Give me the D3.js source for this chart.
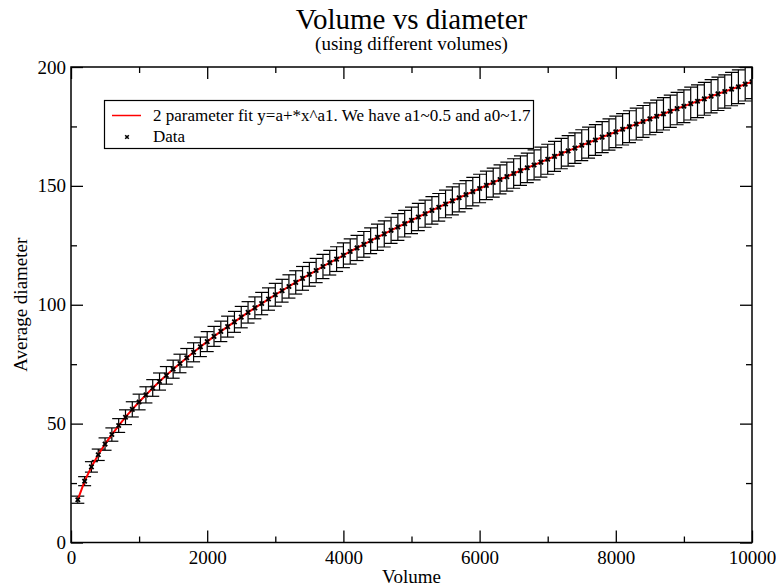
<!DOCTYPE html>
<html lang="en">
<head>
  <meta charset="UTF-8">
  <title>Volume vs diameter</title>
  <script src="https://d3js.org/d3.v7.min.js"></script>
  <style>
    body { margin: 0; background: #fff; }
    text { font-family: "Liberation Serif", "DejaVu Serif", serif; fill: #000; }
  </style>
</head>
<body>
  <svg id="chart"></svg>
  <script>
    // volumes used in the runs
    const volume = [
      100, 200, 300, 400, 500, 600, 700, 800, 900, 1000,
      1100, 1200, 1300, 1400, 1500, 1600, 1700, 1800, 1900, 2000,
      2100, 2200, 2300, 2400, 2500, 2600, 2700, 2800, 2900, 3000,
      3100, 3200, 3300, 3400, 3500, 3600, 3700, 3800, 3900, 4000,
      4100, 4200, 4300, 4400, 4500, 4600, 4700, 4800, 4900, 5000,
      5100, 5200, 5300, 5400, 5500, 5600, 5700, 5800, 5900, 6000,
      6100, 6200, 6300, 6400, 6500, 6600, 6700, 6800, 6900, 7000,
      7100, 7200, 7300, 7400, 7500, 7600, 7700, 7800, 7900, 8000,
      8100, 8200, 8300, 8400, 8500, 8600, 8700, 8800, 8900, 9000,
      9100, 9200, 9300, 9400, 9500, 9600, 9700, 9800, 9900, 10000
    ];

    // average diameter (data and fit lie on top of each other)
    const avgDiameter = [
      18.0, 25.8, 31.8, 36.9, 41.4, 45.4, 49.2, 52.7, 56.0, 59.1,
      62.1, 65.0, 67.7, 70.3, 72.9, 75.3, 77.7, 80.0, 82.3, 84.5,
      86.7, 88.8, 90.8, 92.8, 94.8, 96.8, 98.7, 100.5, 102.4, 104.2,
      105.9, 107.7, 109.4, 111.1, 112.8, 114.4, 116.1, 117.7, 119.2, 120.8,
      122.4, 123.9, 125.4, 126.9, 128.4, 129.8, 131.3, 132.7, 134.1, 135.5,
      136.9, 138.3, 139.7, 141.0, 142.4, 143.7, 145.0, 146.3, 147.6, 148.9,
      150.2, 151.4, 152.7, 153.9, 155.2, 156.4, 157.6, 158.8, 160.0, 161.2,
      162.4, 163.6, 164.7, 165.9, 167.1, 168.2, 169.3, 170.5, 171.6, 172.7,
      173.8, 174.9, 176.0, 177.1, 178.2, 179.3, 180.3, 181.4, 182.5, 183.5,
      184.6, 185.6, 186.6, 187.7, 188.7, 189.7, 190.7, 191.7, 192.8, 193.8
    ];

    // error bar half height
    const diameterErr = [
      1.5, 1.9, 2.2, 2.4, 2.6, 2.8, 2.9, 3.1, 3.2, 3.3,
      3.4, 3.5, 3.6, 3.7, 3.8, 3.9, 3.9, 4.0, 4.1, 4.2,
      4.2, 4.3, 4.4, 4.4, 4.5, 4.5, 4.6, 4.7, 4.7, 4.8,
      4.8, 4.9, 4.9, 5.0, 5.0, 5.1, 5.1, 5.2, 5.2, 5.2,
      5.3, 5.3, 5.4, 5.4, 5.5, 5.5, 5.5, 5.6, 5.6, 5.6,
      5.7, 5.7, 5.8, 5.8, 5.8, 5.9, 5.9, 5.9, 6.0, 6.0,
      6.0, 6.1, 6.1, 6.1, 6.2, 6.2, 6.2, 6.3, 6.3, 6.3,
      6.3, 6.4, 6.4, 6.4, 6.5, 6.5, 6.5, 6.5, 6.6, 6.6,
      6.6, 6.7, 6.7, 6.7, 6.7, 6.8, 6.8, 6.8, 6.8, 6.9,
      6.9, 6.9, 6.9, 7.0, 7.0, 7.0, 7.0, 7.1, 7.1, 7.1
    ];

    const xMajorTicks = [0, 2000, 4000, 6000, 8000, 10000];
    const xMinorTicks = [1000, 3000, 5000, 7000, 9000];
    const yMajorTicks = [0, 50, 100, 150, 200];
    const yMinorTicks = [25, 75, 125, 175];

    const legendLabels = ["2 parameter fit y=a+*x^a1. We have a1~0.5 and a0~1.7", "Data"];

    const width = 776;
    const height = 587;
    const margin = { top: 67, right: 24, bottom: 44.5, left: 71 };
    const x0 = margin.left, x1 = width - margin.right;
    const y0 = height - margin.bottom, y1 = margin.top;

    const data = volume.map((v, i) => ({ v: v, d: avgDiameter[i], e: diameterErr[i] }));

    const svg = d3.select("#chart")
      .attr("width", width)
      .attr("height", height);

    const xScale = d3.scaleLinear().domain([0, 10000]).range([x0, x1]);
    const yScale = d3.scaleLinear().domain([0, 200]).range([y0, y1]);

    svg.append("clipPath").attr("id", "plotClip")
      .append("rect")
      .attr("x", x0).attr("y", y1)
      .attr("width", x1 - x0).attr("height", y0 - y1);

    // titles
    svg.append("text")
      .attr("x", (x0 + x1) / 2).attr("y", 29)
      .attr("text-anchor", "middle")
      .style("font-size", "29px")
      .text("Volume vs diameter");
    svg.append("text")
      .attr("x", (x0 + x1) / 2).attr("y", 50)
      .attr("text-anchor", "middle")
      .style("font-size", "19px")
      .text("(using different volumes)");

    const plot = svg.append("g").attr("clip-path", "url(#plotClip)");

    // error bars
    const capW = 6.5;
    const bars = plot.selectAll("g.err")
      .data(data)
      .enter()
      .append("g")
      .attr("class", "err")
      .attr("stroke", "#000")
      .attr("stroke-width", 1.2);
    bars.append("line")
      .attr("x1", d => xScale(d.v)).attr("x2", d => xScale(d.v))
      .attr("y1", d => yScale(d.d + d.e)).attr("y2", d => yScale(d.d - d.e));
    bars.append("line")
      .attr("x1", d => xScale(d.v) - capW).attr("x2", d => xScale(d.v) + capW)
      .attr("y1", d => yScale(d.d + d.e)).attr("y2", d => yScale(d.d + d.e));
    bars.append("line")
      .attr("x1", d => xScale(d.v) - capW).attr("x2", d => xScale(d.v) + capW)
      .attr("y1", d => yScale(d.d - d.e)).attr("y2", d => yScale(d.d - d.e));

    // fit line
    const line = d3.line().x(d => xScale(d.v)).y(d => yScale(d.d));
    plot.append("path")
      .datum(data)
      .attr("d", line)
      .attr("fill", "none")
      .attr("stroke", "#ff0000")
      .attr("stroke-width", 2);

    // data markers
    const cross = d3.symbol().type(d3.symbolX).size(14);
    plot.selectAll("path.pt")
      .data(data)
      .enter()
      .append("path")
      .attr("class", "pt")
      .attr("d", cross)
      .attr("transform", d => `translate(${xScale(d.v)},${yScale(d.d)})`)
      .attr("stroke", "#000")
      .attr("stroke-width", 1.8)
      .attr("fill", "none");

    // axes with inward ticks on all sides
    const majorLen = 12, minorLen = 6;
    const axisStyle = g => g.call(a => a.select(".domain").remove())
      .selectAll("line").attr("stroke", "#000").attr("stroke-width", 1.3);

    svg.append("g").attr("transform", `translate(0,${y0})`)
      .call(d3.axisBottom(xScale).tickValues(xMajorTicks).tickSize(-majorLen).tickPadding(8).tickFormat(d3.format("d")))
      .call(axisStyle)
      .call(g => g.selectAll("text").style("font-size", "19px").attr("fill", "#000"));
    svg.append("g").attr("transform", `translate(0,${y0})`)
      .call(d3.axisBottom(xScale).tickValues(xMinorTicks).tickSize(-minorLen).tickFormat(""))
      .call(axisStyle);
    svg.append("g").attr("transform", `translate(0,${y1})`)
      .call(d3.axisTop(xScale).tickValues(xMajorTicks).tickSize(-majorLen).tickFormat(""))
      .call(axisStyle);
    svg.append("g").attr("transform", `translate(0,${y1})`)
      .call(d3.axisTop(xScale).tickValues(xMinorTicks).tickSize(-minorLen).tickFormat(""))
      .call(axisStyle);

    svg.append("g").attr("transform", `translate(${x0},0)`)
      .call(d3.axisLeft(yScale).tickValues(yMajorTicks).tickSize(-majorLen).tickPadding(6))
      .call(axisStyle)
      .call(g => g.selectAll("text").style("font-size", "19px").attr("fill", "#000")
        .attr("x", -5));
    svg.append("g").attr("transform", `translate(${x0},0)`)
      .call(d3.axisLeft(yScale).tickValues(yMinorTicks).tickSize(-minorLen).tickFormat(""))
      .call(axisStyle);
    svg.append("g").attr("transform", `translate(${x1},0)`)
      .call(d3.axisRight(yScale).tickValues(yMajorTicks).tickSize(-majorLen).tickFormat(""))
      .call(axisStyle);
    svg.append("g").attr("transform", `translate(${x1},0)`)
      .call(d3.axisRight(yScale).tickValues(yMinorTicks).tickSize(-minorLen).tickFormat(""))
      .call(axisStyle);

    // plot frame
    svg.append("rect")
      .attr("x", x0).attr("y", y1)
      .attr("width", x1 - x0).attr("height", y0 - y1)
      .attr("fill", "none")
      .attr("stroke", "#000")
      .attr("stroke-width", 1.5);

    // axis titles
    svg.append("text")
      .attr("x", (x0 + x1) / 2).attr("y", 583)
      .attr("text-anchor", "middle")
      .style("font-size", "19px")
      .text("Volume");
    svg.append("text")
      .attr("transform", `translate(27,${(y0 + y1) / 2}) rotate(-90)`)
      .attr("text-anchor", "middle")
      .style("font-size", "19px")
      .text("Average diameter");

    // legend
    const legend = svg.append("g");
    legend.append("rect")
      .attr("x", 104.5).attr("y", 100.5)
      .attr("width", 429).attr("height", 48)
      .attr("fill", "#fff")
      .attr("stroke", "#000")
      .attr("stroke-width", 1.2);
    legend.append("line")
      .attr("x1", 112).attr("x2", 141)
      .attr("y1", 115.5).attr("y2", 115.5)
      .attr("stroke", "#ff0000").attr("stroke-width", 1.5);
    legend.append("path")
      .attr("d", d3.symbol().type(d3.symbolX).size(10))
      .attr("transform", "translate(127,137)")
      .attr("stroke", "#000").attr("stroke-width", 1.6).attr("fill", "none");
    legend.selectAll("text.lg")
      .data(legendLabels)
      .enter()
      .append("text")
      .attr("class", "lg")
      .attr("x", 153)
      .attr("y", (d, i) => 121 + i * 20.5)
      .style("font-size", "17px")
      .text(d => d);
  </script>
</body>
</html>
